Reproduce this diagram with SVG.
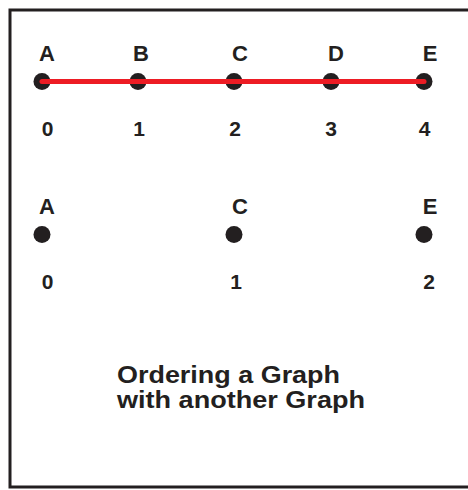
<svg xmlns="http://www.w3.org/2000/svg" width="468" height="490" viewBox="0 0 468 490">
  <style>
    .frame { fill: none; stroke: #231f20; stroke-width: 3; }
    .dot { fill: #231f20; }
    .edge { stroke: #ed1c24; stroke-width: 5; stroke-linecap: round; fill: none; }
    .lbl { font-family: "Liberation Sans", Arial, sans-serif; font-weight: bold; font-size: 22px; fill: #231f20; text-anchor: middle; }
    .num { font-family: "Liberation Sans", Arial, sans-serif; font-weight: bold; font-size: 21px; fill: #231f20; text-anchor: middle; }
    .title { font-family: "Liberation Sans", Arial, sans-serif; font-weight: bold; font-size: 24px; fill: #231f20; }
  </style>
  <rect width="468" height="490" fill="#ffffff"/>
  <!-- outer frame, open on the right -->
  <path class="frame" d="M470,10 H10 V487 H470"/>

  <!-- upper graph: A..E ordered 0..4 -->
  <g id="g1-A"><circle class="dot" cx="42" cy="81.5" r="8.5"/><text class="lbl" x="47" y="61">A</text><text class="num" x="47.5" y="135.5">0</text></g>
  <g id="g1-B"><circle class="dot" cx="138" cy="81.5" r="8.5"/><text class="lbl" x="141" y="61">B</text><text class="num" x="139" y="135.5">1</text></g>
  <g id="g1-C"><circle class="dot" cx="234" cy="81.5" r="8.5"/><text class="lbl" x="240" y="61">C</text><text class="num" x="235" y="135.5">2</text></g>
  <g id="g1-D"><circle class="dot" cx="331" cy="81.5" r="8.5"/><text class="lbl" x="336" y="61">D</text><text class="num" x="331" y="135.5">3</text></g>
  <g id="g1-E"><circle class="dot" cx="424" cy="81.5" r="8.5"/><text class="lbl" x="430" y="61">E</text><text class="num" x="424.5" y="135.5">4</text></g>

  <!-- connectors: the path through A..E, drawn over the dots -->
  <g id="connectors">
    <line class="edge" x1="42" y1="81.5" x2="424" y2="81.5"/>
  </g>

  <!-- lower graph: A, C, E ordered 0..2 -->
  <g id="g2-A"><circle class="dot" cx="42" cy="234.5" r="8.5"/><text class="lbl" x="47" y="213.5">A</text><text class="num" x="47.5" y="288.5">0</text></g>
  <g id="g2-C"><circle class="dot" cx="234" cy="234.5" r="8.5"/><text class="lbl" x="240" y="213.5">C</text><text class="num" x="236" y="288.5">1</text></g>
  <g id="g2-E"><circle class="dot" cx="424" cy="234.5" r="8.5"/><text class="lbl" x="430" y="213.5">E</text><text class="num" x="429" y="288.5">2</text></g>

  <!-- caption -->
  <g id="caption">
    <text class="title" x="117" y="382.7" textLength="223" lengthAdjust="spacingAndGlyphs">Ordering a Graph</text>
    <text class="title" x="117" y="408.3" textLength="248" lengthAdjust="spacingAndGlyphs">with another Graph</text>
  </g>
</svg>
